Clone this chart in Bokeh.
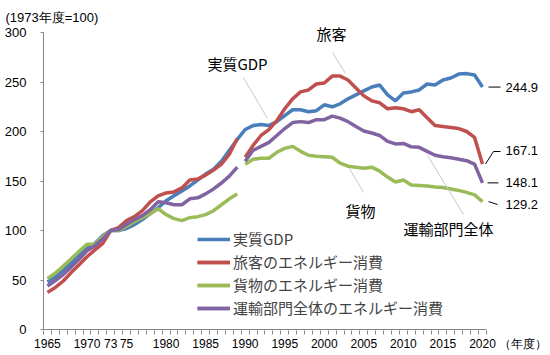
from bokeh.plotting import figure
from bokeh.models import Range1d, FixedTicker, Label
from bokeh.embed import file_html
from bokeh.resources import INLINE

FONT = "Noto Sans CJK JP"
NUMFONT = "Liberation Sans"

years_all = list(range(1965, 2021))
years_old = list(range(1965, 1990))
years_new = list(range(1990, 2021))

gdp = [48, 53, 60, 67, 75, 82, 87, 95, 100, 100,
       102, 106, 111, 117, 123, 130, 135, 140, 145, 151,
       157, 162, 170, 181, 192, 202, 206, 207, 206, 210,
       216, 222, 222, 220, 221, 227, 225, 228, 233, 237,
       241, 245, 247, 237, 231, 239, 240, 242, 248, 247,
       252, 254, 258, 258.5, 257, 244.9]

passenger_old = [37.5, 42.5, 49, 57.5, 65.5, 73.5, 80.5, 87, 100, 103,
                 110, 114, 120, 129, 135, 138, 139, 143, 151, 152,
                 156, 161, 167, 177, 193]
passenger_new = [174, 186, 196, 202, 211, 223, 233, 240, 242, 248,
                 249, 256, 256, 252, 244, 236, 231, 229, 223, 224,
                 223, 220, 222, 214, 206, 205, 204, 203, 200, 194,
                 167.1]

freight_old = [51.5, 57, 64, 71.5, 79, 86, 86, 94, 100, 100,
               104, 109, 113, 117, 122, 116, 112, 110, 113, 114,
               116, 120, 126, 132, 137]
freight_new = [167, 172, 173, 173, 179, 183, 185, 180, 176, 175,
               174.5, 174, 168, 165, 164, 163, 164, 160, 154, 149,
               151, 146, 145.5, 145, 144, 143.5, 142, 140.5, 138.5, 136,
               129.2]

total_old = [44, 49.5, 55.5, 63, 71, 79.5, 84.5, 91.5, 100, 101,
             106, 111, 115, 121, 129, 128, 126, 126, 132, 133,
             137, 142, 148, 155, 164]
total_new = [170, 181, 185, 189, 196, 203, 209, 210, 209, 212,
             212, 215.5, 213.5, 210, 205, 200.5, 198.5, 196, 190, 187.5,
             188, 184.5, 184, 180, 176, 174.5, 173.5, 172, 170.5, 167,
             148.1]

series_names = ["実質GDP", "旅客のエネルギー消費", "貨物のエネルギー消費", "運輸部門全体のエネルギー消費"]
colors = ["#4A7EBB", "#C0504D", "#9BBB59", "#8064A2"]

x_tick_years = [1965, 1970, 1973, 1975, 1980, 1985, 1990, 1995, 2000, 2005, 2010, 2015, 2020]
x_tick_labels = ["1965", "1970", "73", "75", "1980", "1985", "1990", "1995", "2000", "2005", "2010", "2015", "2020"]
x_unit_label = "（年度）"
x_unit_pos = 2025.1
y_ticks = [0, 50, 100, 150, 200, 250, 300]
y_unit_label = "(1973年度=100)"

p = figure(width=550, height=355,
           x_range=Range1d(1964.5, 2028.6), y_range=Range1d(-1.01, 308.1),
           output_backend="svg", toolbar_location=None,
           min_border_left=43, min_border_right=0, min_border_top=24, min_border_bottom=25)
p.outline_line_color = None
p.xgrid.visible = False
p.ygrid.visible = False
p.background_fill_color = "white"
p.border_fill_color = "white"

p.title.text = y_unit_label
p.title.align = "left"
p.title.offset = -38
p.title.standoff = 0
p.title.vertical_align = "bottom"
p.title.text_font = NUMFONT
p.title.text_font_size = "13px"
p.title.text_font_style = "normal"
p.title.text_color = "black"

xa = p.xaxis[0]
xa.ticker = FixedTicker(ticks=x_tick_years + [x_unit_pos],
                        minor_ticks=[y - 0.5 for y in years_all] + [2020.5])
overrides = {y: l for y, l in zip(x_tick_years, x_tick_labels)}
overrides[x_unit_pos] = x_unit_label
xa.major_label_overrides = overrides
xa.axis_line_color = None
xa.major_tick_out = 0
xa.major_tick_in = 0
xa.major_tick_line_color = None
xa.minor_tick_out = 4
xa.minor_tick_in = 0
xa.minor_tick_line_color = "#868686"
xa.major_label_standoff = 2
xa.major_label_text_font = NUMFONT
xa.major_label_text_font_size = "12px"
xa.major_label_text_color = "black"

ya = p.yaxis[0]
ya.ticker = FixedTicker(ticks=y_ticks, minor_ticks=[])
ya.bounds = (0, 300)
ya.axis_line_color = "#868686"
ya.major_tick_out = 3
ya.major_tick_in = 0
ya.major_tick_line_color = "#868686"
ya.minor_tick_line_color = None
ya.major_label_standoff = 14
ya.major_label_text_font = NUMFONT
ya.major_label_text_font_size = "13px"
ya.major_label_text_color = "black"

# x axis line (drawn as a glyph so the axis can stop at 2020)
p.line([1964.5, 2020.5], [0, 0], line_color="#868686", line_width=1)

LW = 3.5
p.line(years_all, gdp, line_color=colors[0], line_width=LW, legend_label=series_names[0])
p.line(years_old, passenger_old, line_color=colors[1], line_width=LW, legend_label=series_names[1])
p.line(years_new, passenger_new, line_color=colors[1], line_width=LW, legend_label=series_names[1])
p.line(years_old, freight_old, line_color=colors[2], line_width=LW, legend_label=series_names[2])
p.line(years_new, freight_new, line_color=colors[2], line_width=LW, legend_label=series_names[2])
p.line(years_old, total_old, line_color=colors[3], line_width=LW, legend_label=series_names[3])
p.line(years_new, total_new, line_color=colors[3], line_width=LW, legend_label=series_names[3])

lg = p.legend[0]
lg.location = (154, 12)
lg.border_line_color = None
lg.background_fill_alpha = 0
lg.padding = 0
lg.margin = 0
lg.spacing = 2
lg.label_height = 20
lg.glyph_height = 20
lg.glyph_width = 33
lg.label_standoff = 3
lg.label_text_font = FONT
lg.label_text_font_size = "15px"

# gray leader lines for series names
gray_leaders = [([1989.78, 1992.82], [254.5, 213.1]),
                ([2001.04, 2002.68], [279.8, 258.6]),
                ([2003.19, 2004.96], [162.6, 138.4]),
                ([2013.05, 2017.6], [175.8, 116.2])]
for xs, ys in gray_leaders:
    p.line(xs, ys, line_color="#C8C8C8", line_width=1)

name_labels = [("実質GDP", 1989.03, 268.7), ("旅客", 2000.91, 299.0),
               ("貨物", 2004.58, 120.2), ("運輸部門全体", 2015.70, 102.0)]
for t, x, y in name_labels:
    p.add_layout(Label(x=x, y=y, text=t, text_font=FONT, text_font_size="15px",
                       text_align="center", text_baseline="middle", text_color="black"))

# black leader lines for end values
black_leaders = [([2020.76, 2022.28], [244.9, 244.9]),
                 ([2020.38, 2021.39, 2022.28], [167.1, 179.8, 179.8]),
                 ([2020.63, 2022.02], [148.1, 148.1]),
                 ([2020.76, 2021.9], [129.2, 126.3])]
for xs, ys in black_leaders:
    p.line(xs, ys, line_color="black", line_width=1)

end_labels = [("244.9", 244.9), ("167.1", 180.8), ("148.1", 148.1), ("129.2", 126.3)]
for t, y in end_labels:
    p.add_layout(Label(x=2022.91, y=y, text=t, text_font=NUMFONT, text_font_size="13px",
                       text_align="left", text_baseline="middle", text_color="black"))

open("out.html", "w").write(file_html(p, INLINE))
